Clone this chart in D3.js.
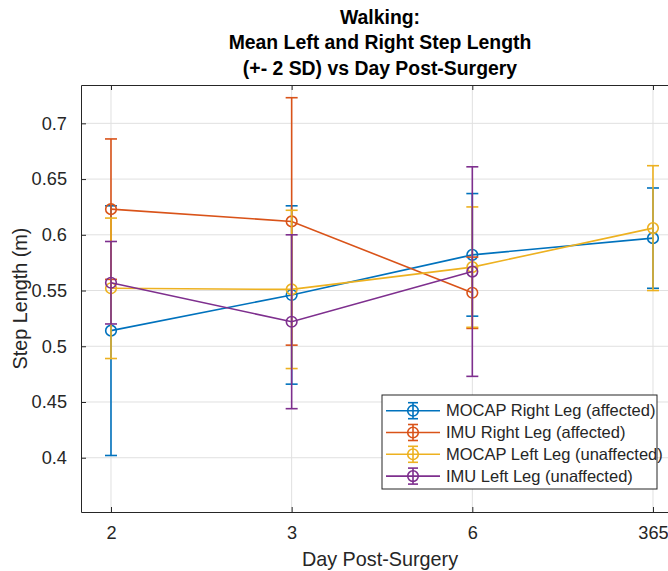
<!DOCTYPE html>
<html>
<head>
<meta charset="utf-8">
<script src="https://cdn.jsdelivr.net/npm/d3@7"></script>
<style>
  body { margin: 0; background: #fff; }
  svg { display: block; font-family: "Liberation Sans", Arial, Helvetica, sans-serif; }
</style>
</head>
<body>
<div id="chart"></div>
<script>
// step length per day, mean and 2 SD half-width
const days = ['2', '3', '6', '365'];
const yTicks = [0.4, 0.45, 0.5, 0.55, 0.6, 0.65, 0.7];

const mocapRight = [0.514, 0.546, 0.582, 0.597];
const mocapRightErr = [0.112, 0.080, 0.055, 0.045];
const imuRight = [0.623, 0.612, 0.548, null];
const imuRightErr = [0.063, 0.111, 0.032, null];
const mocapLeft = [0.552, 0.551, 0.571, 0.606];
const mocapLeftErr = [0.063, 0.071, 0.054, 0.056];
const imuLeft = [0.557, 0.522, 0.567, null];
const imuLeftErr = [0.037, 0.078, 0.094, null];

const seriesNames = ['MOCAP Right Leg (affected)', 'IMU Right Leg (affected)',
                     'MOCAP Left Leg (unaffected)', 'IMU Left Leg (unaffected)'];
const seriesColors = ['#0072BD', '#D95319', '#EDB120', '#7E2F8E'];

const series = [
  {name: seriesNames[0], color: seriesColors[0], mean: mocapRight, err: mocapRightErr},
  {name: seriesNames[1], color: seriesColors[1], mean: imuRight, err: imuRightErr},
  {name: seriesNames[2], color: seriesColors[2], mean: mocapLeft, err: mocapLeftErr},
  {name: seriesNames[3], color: seriesColors[3], mean: imuLeft, err: imuLeftErr}
];

const width = 668, height = 571;
const margin = {top: 85, right: -11, bottom: 59, left: 81};
const txt = '#262626';

const svg = d3.select('#chart').append('svg')
  .attr('width', width).attr('height', height);

const x = d3.scaleLinear()
  .domain([-0.166, 3.144])
  .range([margin.left, width - margin.right]);
const y = d3.scaleLinear()
  .domain([0.3513, 0.7344])
  .range([height - margin.bottom, margin.top]);

const x0 = x.range()[0], x1 = x.range()[1];
const y0 = y.range()[0], y1 = y.range()[1];

// grid
svg.append('g').selectAll('line.gx').data(days).join('line')
  .attr('x1', (d, i) => x(i)).attr('x2', (d, i) => x(i))
  .attr('y1', y1).attr('y2', y0)
  .attr('stroke', '#e0e0e0').attr('stroke-width', 1);
svg.append('g').selectAll('line.gy').data(yTicks).join('line')
  .attr('x1', x0).attr('x2', x1)
  .attr('y1', d => y(d)).attr('y2', d => y(d))
  .attr('stroke', '#e0e0e0').attr('stroke-width', 1);

// axes (ticks inward)
const xAxis = d3.axisBottom(x).tickValues(d3.range(days.length))
  .tickFormat(i => days[i]).tickSizeInner(-5).tickSizeOuter(0).tickPadding(14);
const gx = svg.append('g').attr('transform', `translate(0,${y0})`).call(xAxis);
const yAxis = d3.axisLeft(y).tickValues(yTicks).tickFormat(d3.format('')).tickSizeInner(-5).tickSizeOuter(0).tickPadding(14);
const gy = svg.append('g').attr('transform', `translate(${x0},0)`).call(yAxis);
// top box line with ticks
const gt = svg.append('g').attr('transform', `translate(0,${y1})`)
  .call(d3.axisTop(x).tickValues(d3.range(days.length)).tickFormat('').tickSizeInner(-5).tickSizeOuter(0));

[gx, gy, gt].forEach(g => {
  g.select('.domain').attr('stroke', txt).attr('stroke-width', 1);
  g.selectAll('.tick line').attr('stroke', txt);
  g.selectAll('.tick text').attr('fill', txt).style('font-size', '18.2px');
});

// series
const line = d3.line()
  .defined(d => d.v !== null)
  .x(d => x(d.i)).y(d => y(d.v));

series.forEach(s => {
  const pts = s.mean.map((v, i) => ({i: i, v: v, e: s.err[i]}));
  const valid = pts.filter(p => p.v !== null);
  const g = svg.append('g');
  g.append('path').datum(pts).attr('d', line)
    .attr('fill', 'none').attr('stroke', s.color).attr('stroke-width', 1.6);
  g.selectAll('line.bar').data(valid).join('line')
    .attr('x1', d => x(d.i)).attr('x2', d => x(d.i))
    .attr('y1', d => y(d.v - d.e)).attr('y2', d => y(d.v + d.e))
    .attr('stroke', s.color).attr('stroke-width', 1.6);
  [-1, 1].forEach(sign => {
    g.selectAll('line.cap' + (sign > 0 ? 'u' : 'l')).data(valid).join('line')
      .attr('x1', d => x(d.i) - 6).attr('x2', d => x(d.i) + 6)
      .attr('y1', d => y(d.v + sign * d.e)).attr('y2', d => y(d.v + sign * d.e))
      .attr('stroke', s.color).attr('stroke-width', 1.6);
  });
  g.selectAll('circle').data(valid).join('circle')
    .attr('cx', d => x(d.i)).attr('cy', d => y(d.v)).attr('r', 5.3)
    .attr('fill', 'none').attr('stroke', s.color).attr('stroke-width', 1.6);
});

// title
const title = ['Walking:', 'Mean Left and Right Step Length', '(+- 2 SD) vs Day Post-Surgery'];
const tcx = (x0 + x1) / 2;
svg.append('g').selectAll('text').data(title).join('text')
  .attr('x', tcx).attr('y', (d, i) => 24 + i * 25.3)
  .attr('text-anchor', 'middle').attr('fill', '#000')
  .style('font-size', '19.4px').style('font-weight', 'bold')
  .text(d => d);

// axis labels
svg.append('text').attr('x', tcx).attr('y', 566)
  .attr('text-anchor', 'middle').attr('fill', txt).style('font-size', '19.8px')
  .text('Day Post-Surgery');
svg.append('text')
  .attr('transform', `translate(27,${(y0 + y1) / 2}) rotate(-90)`)
  .attr('text-anchor', 'middle').attr('fill', txt).style('font-size', '19.8px')
  .text('Step Length (m)');

// legend
const lg = svg.append('g').attr('transform', 'translate(382,395)');
lg.append('rect').attr('width', 275).attr('height', 94)
  .attr('fill', '#fff').attr('stroke', txt).attr('stroke-width', 1);
const rows = lg.selectAll('g.row').data(series).join('g')
  .attr('transform', (d, i) => `translate(0,${15.7 + i * 21.8})`);
rows.append('line').attr('x1', 4).attr('x2', 58).attr('y1', 0).attr('y2', 0)
  .attr('stroke', d => d.color).attr('stroke-width', 1.6);
rows.append('line').attr('x1', 31).attr('x2', 31).attr('y1', -8).attr('y2', 8)
  .attr('stroke', d => d.color).attr('stroke-width', 1.6);
rows.append('line').attr('x1', 26).attr('x2', 36).attr('y1', -8).attr('y2', -8)
  .attr('stroke', d => d.color).attr('stroke-width', 1.6);
rows.append('line').attr('x1', 26).attr('x2', 36).attr('y1', 8).attr('y2', 8)
  .attr('stroke', d => d.color).attr('stroke-width', 1.6);
rows.append('circle').attr('cx', 31).attr('cy', 0).attr('r', 5.3)
  .attr('fill', 'none').attr('stroke', d => d.color).attr('stroke-width', 1.6);
rows.append('text').attr('x', 64).attr('y', 5.7)
  .attr('fill', txt).style('font-size', '16.5px')
  .text(d => d.name);
</script>
</body>
</html>
